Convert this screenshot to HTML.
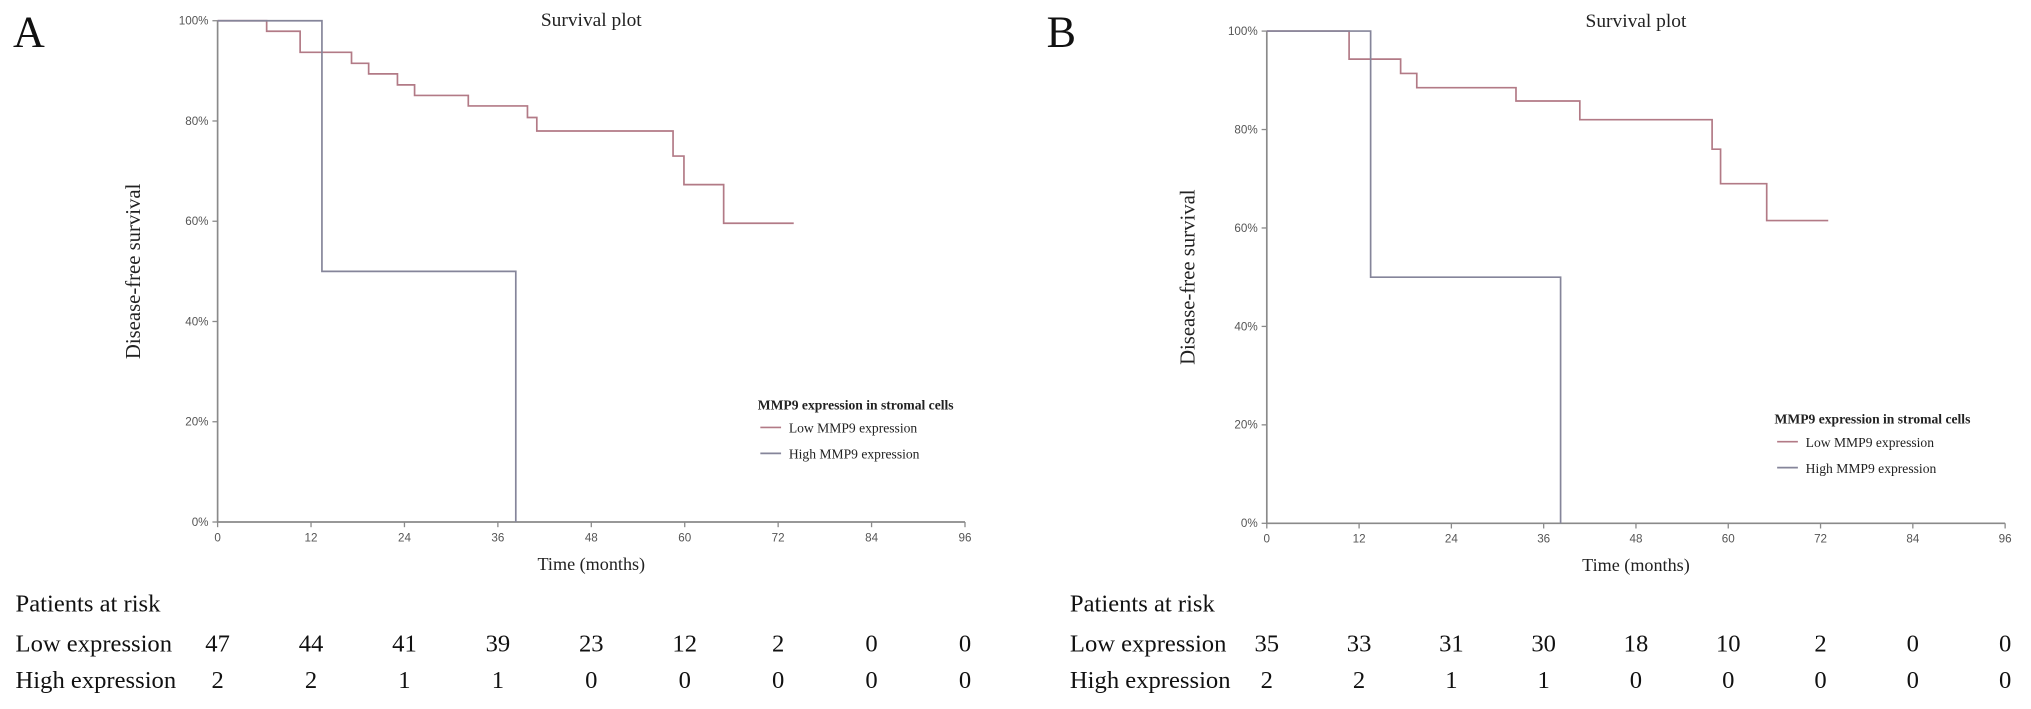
<!DOCTYPE html>
<html><head><meta charset="utf-8"><style>
body{margin:0;background:#fff;width:2031px;height:709px;overflow:hidden;font-family:"Liberation Serif",serif}
svg{position:absolute;left:0;top:0}
</style></head><body>
<svg id="chart" width="2031" height="709" viewBox="0 0 2031 709"><g id="root" transform="scale(1.2953)"></g></svg>
<script>
// ---- data ----
const xTicks=[0,12,24,36,48,60,72,84,96];
const yTicks=[0,20,40,60,80,100];
const aLowT=[0,6.3,10.6,17.2,19.4,23.1,25.3,32.2,39.8,41,58.5,59.9,65,74];
const aLowS=[100,97.9,93.7,91.5,89.4,87.2,85.1,83.0,80.7,78.0,73.0,67.3,59.6,59.6];
const aHighT=[0,13.4,38.3,38.3];
const aHighS=[100,50,0,0];
const bLowT=[0,10.7,17.4,19.5,32.4,40.7,57.9,59,65,73];
const bLowS=[100,94.3,91.4,88.5,85.8,82.0,76.0,69.0,61.5,61.5];
const bHighT=[0,13.5,38.2,38.2];
const bHighS=[100,50,0,0];
const riskA_low=[47,44,41,39,23,12,2,0,0];
const riskA_high=[2,2,1,1,0,0,0,0,0];
const riskB_low=[35,33,31,30,18,10,2,0,0];
const riskB_high=[2,2,1,1,0,0,0,0,0];

const root=document.getElementById('root');
const NS='http://www.w3.org/2000/svg';
function mk(tag,attrs,parent){const e=document.createElementNS(NS,tag);for(const k in attrs)e.setAttribute(k,attrs[k]);(parent||root).appendChild(e);return e;}
function txt(s,attrs,parent){const e=mk('text',attrs,parent);e.textContent=s;return e;}

function panel(cfg){
  const g=mk('g',{});
  
  
  const X=t=>cfg.x0+(t/96)*(cfg.x1-cfg.x0);
  const Y=s=>cfg.y0-(s/100)*(cfg.y0-cfg.y1);
  const lbl=txt(cfg.letter,{x:cfg.lx,y:36,'font-size':34,fill:'#111'},g);
  
  
  const ax=mk('path',{d:`M${cfg.x0},${cfg.y1}V${cfg.y0}H${cfg.x1}`,stroke:'#8a8a8a','stroke-width':1.3,fill:'none'},g);
  
  
  yTicks.forEach(v=>{
    mk('line',{x1:cfg.x0-4,x2:cfg.x0,y1:Y(v),y2:Y(v),stroke:'#8a8a8a'},g);
    const t=txt(v+'%',{x:cfg.x0-7,y:Y(v)+3,'font-size':9,'text-anchor':'end',fill:'#555','font-family':'Liberation Sans,sans-serif'},g);
    
    
  });
  xTicks.forEach(v=>{
    mk('line',{x1:X(v),x2:X(v),y1:cfg.y0,y2:cfg.y0+4,stroke:'#8a8a8a'},g);
    const t=txt(v,{x:X(v),y:cfg.y0+15,'font-size':9,'text-anchor':'middle',fill:'#555','font-family':'Liberation Sans,sans-serif'},g);
    
    
  });
  const tt=txt('Survival plot',{x:(cfg.x0+cfg.x1)/2,y:cfg.titleY,'font-size':15,'text-anchor':'middle',fill:'#222'},g);
  
  
  const xt=txt('Time (months)',{x:(cfg.x0+cfg.x1)/2,y:cfg.y0+37,'font-size':14,'text-anchor':'middle',fill:'#222'},g);
  
  
  const yc=(cfg.y0+cfg.y1)/2;
  const yt=txt('Disease-free survival',{x:cfg.ytx,y:yc,'font-size':16,'text-anchor':'middle',fill:'#222',transform:`rotate(-90 ${cfg.ytx} ${yc})`},g);
  
  
  function curve(T,S,color,name){
    let d=`M${X(T[0])},${Y(S[0])}`;
    for(let i=1;i<T.length;i++){d+=`H${X(T[i])}V${Y(S[i])}`;}
    const p=mk('path',{d,stroke:color,'stroke-width':1.3,fill:'none'},g);
    
    
  }
  curve(cfg.lowT,cfg.lowS,'#b27a86','low-expression-curve');
  curve(cfg.highT,cfg.highS,'#85859a','high-expression-curve');
  const lg=mk('g',{},g);
  
  
  txt('MMP9 expression in stromal cells',{x:cfg.legX,y:cfg.legY,'font-size':10.5,'font-weight':'bold',fill:'#222'},lg);
  [['Low MMP9 expression','#b27a86'],['High MMP9 expression','#85859a']].forEach((e,i)=>{
    const eg=mk('g',{},lg);
    
    
    const yy=cfg.legY+18+i*20;
    mk('line',{x1:cfg.legX+2,x2:cfg.legX+18,y1:yy-4,y2:yy-4,stroke:e[1],'stroke-width':1.3},eg);
    txt(e[0],{x:cfg.legX+24,y:yy,'font-size':10.5,fill:'#222'},eg);
  });
  const rg=mk('g',{},g);
  
  
  txt('Patients at risk',{x:cfg.tx,y:472,'font-size':19,fill:'#111'},rg);
  [['Low expression',cfg.rLow,503],['High expression',cfg.rHigh,531]].forEach(r=>{
    txt(r[0],{x:cfg.tx,y:r[2],'font-size':19,fill:'#111'},rg);
    r[1].forEach((v,i)=>{
      const c=txt(v,{x:X(xTicks[i]),y:r[2],'font-size':19,'text-anchor':'middle',fill:'#111'},rg);
      
      
    });
  });
}
panel({id:'a',letter:'A',lx:10,x0:168,x1:745,y0:403,y1:16,titleY:20,ytx:108,legX:585,legY:316,tx:12,
  lowT:aLowT,lowS:aLowS,highT:aHighT,highS:aHighS,rLow:riskA_low,rHigh:riskA_high});
panel({id:'b',letter:'B',lx:808,x0:978,x1:1548,y0:404,y1:24,titleY:21,ytx:922,legX:1370,legY:327,tx:826,
  lowT:bLowT,lowS:bLowS,highT:bHighT,highS:bHighS,rLow:riskB_low,rHigh:riskB_high});
</script>
</body></html>
